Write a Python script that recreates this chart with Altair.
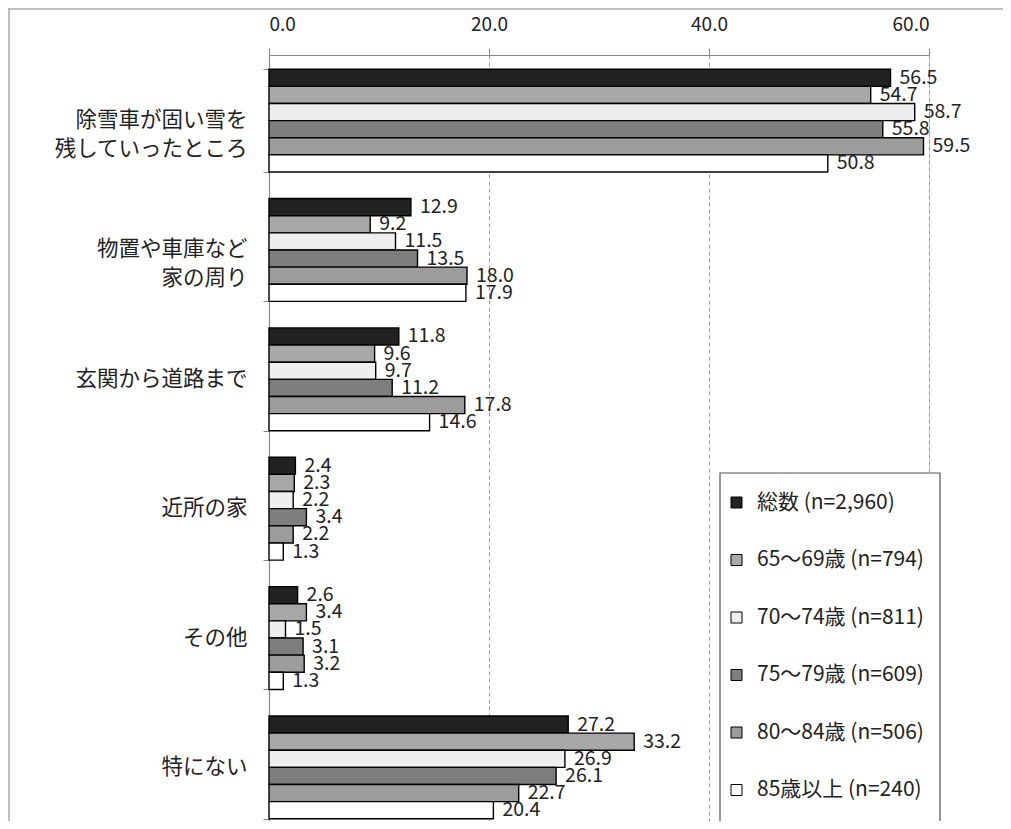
import altair as alt
import pandas as pd

FONT = "Noto Sans CJK JP"

categories = [
    "除雪車が固い雪を\n残していったところ",
    "物置や車庫など\n家の周り",
    "玄関から道路まで",
    "近所の家",
    "その他",
    "特にない",
]
series = [
    "総数 (n=2,960)",
    "65～69歳 (n=794)",
    "70～74歳 (n=811)",
    "75～79歳 (n=609)",
    "80～84歳 (n=506)",
    "85歳以上 (n=240)",
]
v_total = [56.5, 12.9, 11.8, 2.4, 2.6, 27.2]
v_65 = [54.7, 9.2, 9.6, 2.3, 3.4, 33.2]
v_70 = [58.7, 11.5, 9.7, 2.2, 1.5, 26.9]
v_75 = [55.8, 13.5, 11.2, 3.4, 3.1, 26.1]
v_80 = [59.5, 18.0, 17.8, 2.2, 3.2, 22.7]
v_85 = [50.8, 17.9, 14.6, 1.3, 1.3, 20.4]
x_ticks = [0, 20, 40, 60]

colors = ["#222222", "#a8a8a8", "#eeeeee", "#7e7e7e", "#9c9c9c", "#ffffff"]

rows = []
for s, vals in zip(series, [v_total, v_65, v_70, v_75, v_80, v_85]):
    for c, v in zip(categories, vals):
        rows.append({"category": c, "series": s, "value": v})
df = pd.DataFrame(rows)

x_enc = alt.X(
    "value:Q",
    scale=alt.Scale(domain=[0, 60], nice=False, zero=True),
    axis=alt.Axis(
        orient="top", title=None, values=x_ticks, format=".1f",
        labelFontSize=19, labelFont=FONT, labelColor="#222", labelPadding=14,
        tickSize=7, tickColor="#888", domainColor="#888", domainWidth=1.2,
        grid=True, gridColor="#9a9a9a", gridDash=[4, 3], gridWidth=1,
    ),
)
y_enc = alt.Y(
    "category:N", sort=categories,
    scale=alt.Scale(paddingInner=0.205, paddingOuter=0.11),
    axis=alt.Axis(
        title=None, labelExpr="split(datum.label, '\\n')",
        labelFontSize=21.5, labelFont=FONT, labelColor="#222", labelLineHeight=29,
        labelPadding=16, labelLimit=300, tickBand="extent", tickSize=6, tickColor="#888",
        domainColor="#888", domainWidth=1.2, grid=False,
    ),
)
yoff = alt.YOffset("series:N", sort=series, scale=alt.Scale(paddingInner=0, paddingOuter=0))

base = alt.Chart(df)
bars = base.mark_bar(stroke="black", strokeWidth=1.4).encode(
    x=x_enc, y=y_enc, yOffset=yoff,
    color=alt.Color(
        "series:N", sort=series,
        scale=alt.Scale(domain=series, range=colors),
        legend=alt.Legend(
            title=None, orient="none", legendX=457, legendY=437,
            padding=0, symbolType="square", symbolSize=121,
            symbolStrokeColor="black", symbolStrokeWidth=1,
            labelFontSize=21, labelFont=FONT, labelColor="#222",
            labelOffset=10, rowPadding=35.5, labelLimit=300,
        ),
    ),
)
labels = base.mark_text(align="left", baseline="middle", dx=9, dy=0,
                        fontSize=19.5, font=FONT, color="#222").encode(
    x="value:Q", y=alt.Y("category:N", sort=categories), yOffset=yoff,
    text=alt.Text("value:Q", format=".1f"),
)

one = pd.DataFrame({"a": [0]})
legend_box = alt.Chart(one).mark_rect(fill="white", stroke="#555", strokeWidth=1.2).encode(
    x=alt.value(451), x2=alt.value(671), y=alt.value(418), y2=alt.value(795)
)
frame_left = alt.Chart(one).mark_rule(color="#aaa", strokeWidth=1.5).encode(
    x=alt.value(-260), y=alt.value(-47), y2=alt.value(785)
)
frame_top = alt.Chart(one).mark_rule(color="#aaa", strokeWidth=1.5).encode(
    x=alt.value(-261), x2=alt.value(745), y=alt.value(-46)
)

chart = alt.layer(bars, labels, legend_box, frame_left, frame_top).properties(
    width=660, height=778,
    padding={"left": 261, "top": 47, "right": 74, "bottom": -12},
    autosize="none",
).configure_view(stroke=None).configure(background="white")

chart.save("out.html", embed_options={"renderer": "svg", "actions": False})
